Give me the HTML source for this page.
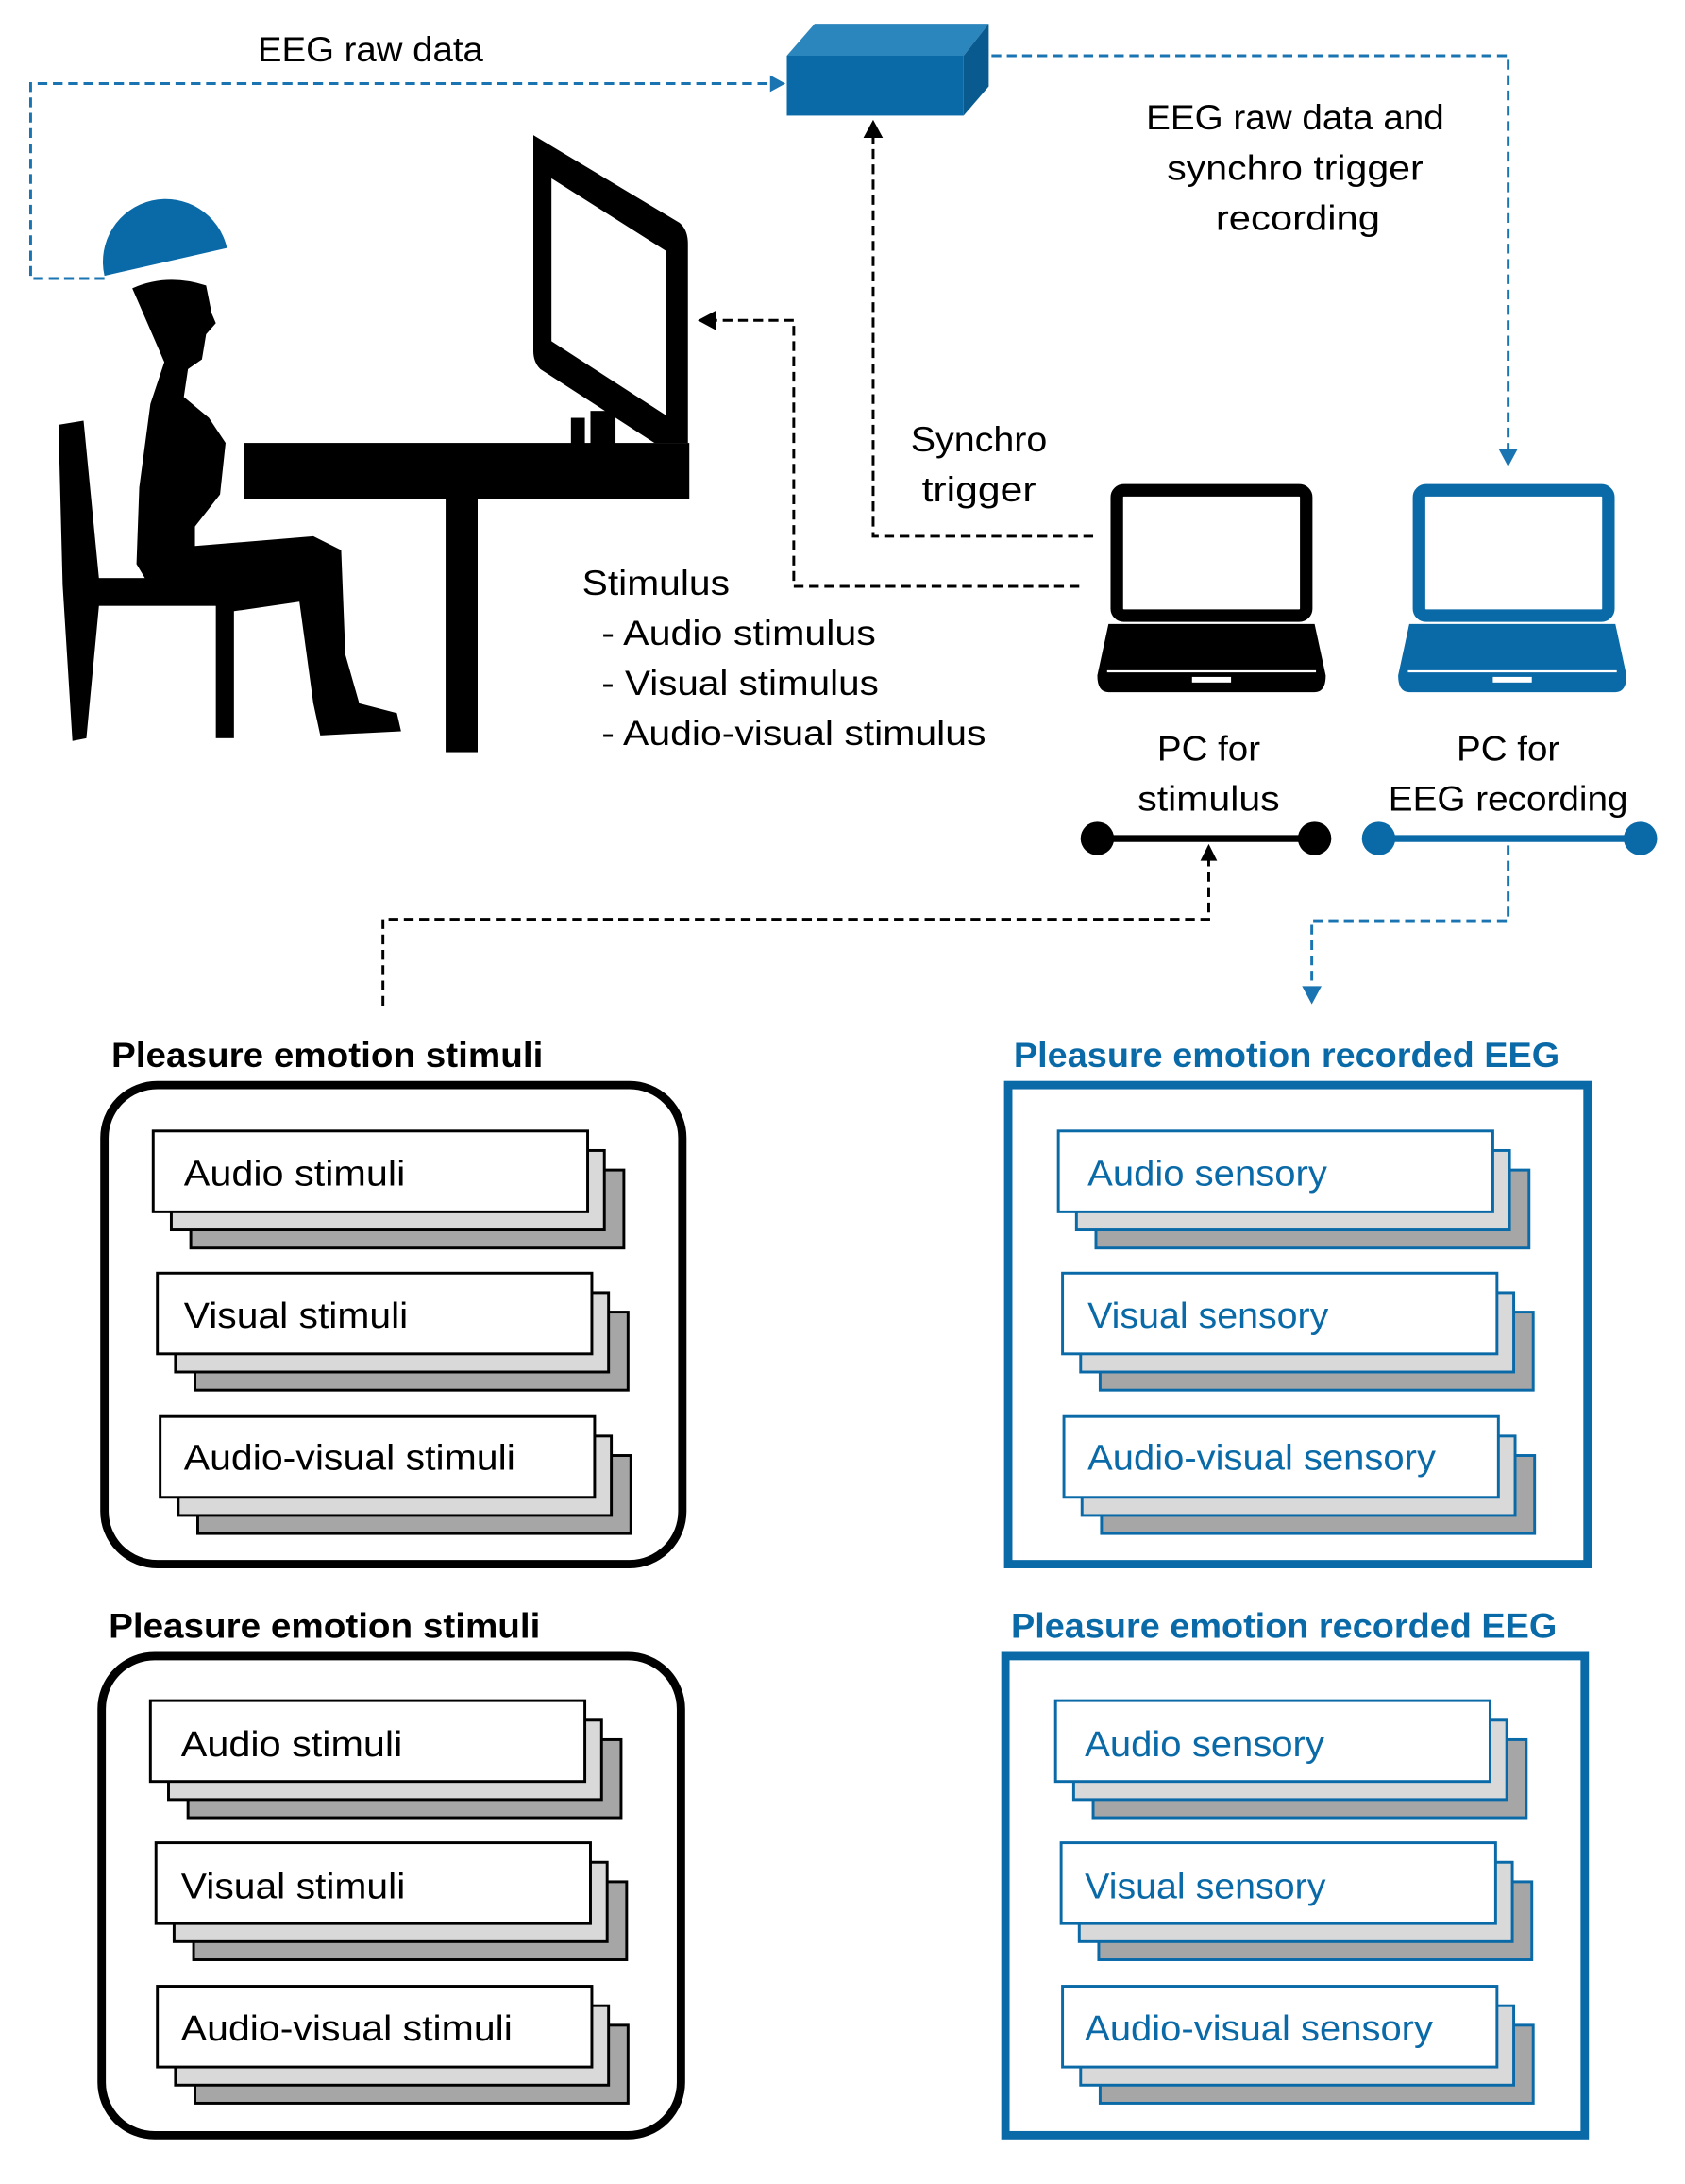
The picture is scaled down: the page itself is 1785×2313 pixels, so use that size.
<!DOCTYPE html>
<html><head><meta charset="utf-8"><style>
html,body{margin:0;padding:0;background:#fff}
svg{display:block}
text{font-family:"Liberation Sans",sans-serif}
</style></head><body>
<svg width="1785" height="2313" viewBox="0 0 1210 1568" preserveAspectRatio="none" xmlns="http://www.w3.org/2000/svg">
<!-- Blue cuboid -->
<polygon points="565,40 585,17 710,17 692,40" fill="#2b86bd"/>
<polygon points="692,40 710,17 710,62 692,83" fill="#085a8f"/>
<rect x="565" y="40" width="127" height="43" fill="#0a6aa8"/>
<g stroke="#1a74b2" stroke-width="2" stroke-dasharray="7,4" fill="none">
<path d="M75,200 H22 V60 H553"/>
<path d="M712,40 H1083 V322"/>
<path d="M1083,607 V661 H942 V708"/>
</g>
<polygon points="553,54 564,60 553,66" fill="#1a74b2"/>
<polygon points="1076,322 1083,335 1090,322" fill="#1a74b2"/>
<polygon points="935,708 942,721 949,708" fill="#1a74b2"/>
<text x="266" y="44" font-size="25" text-anchor="middle" textLength="162" lengthAdjust="spacingAndGlyphs">EEG raw data</text>
<text x="930" y="93" font-size="25" text-anchor="middle" textLength="214" lengthAdjust="spacingAndGlyphs">EEG raw data and</text>
<text x="930" y="129" font-size="25" text-anchor="middle" textLength="184" lengthAdjust="spacingAndGlyphs">synchro trigger</text>
<text x="932" y="165" font-size="25" text-anchor="middle" textLength="118" lengthAdjust="spacingAndGlyphs">recording</text>
<g stroke="#000" stroke-width="2" stroke-dasharray="7,4" fill="none">
<path d="M785,385 H627 V98"/>
<path d="M775,421 H570 V230 H514"/>
<path d="M275,722 V660 H868 V617"/>
</g>
<polygon points="620,99 627,86 634,99" fill="#000"/>
<polygon points="514,223 501,230 514,237" fill="#000"/>
<polygon points="862,618 868,606 874,618" fill="#000"/>
<text x="703" y="324" font-size="25" text-anchor="middle" textLength="98" lengthAdjust="spacingAndGlyphs">Synchro</text>
<text x="703" y="360" font-size="25" text-anchor="middle" textLength="82" lengthAdjust="spacingAndGlyphs">trigger</text>
<text x="418" y="427" font-size="25" textLength="106" lengthAdjust="spacingAndGlyphs">Stimulus</text>
<text x="432" y="463" font-size="25" textLength="197" lengthAdjust="spacingAndGlyphs">- Audio stimulus</text>
<text x="432" y="499" font-size="25" textLength="199" lengthAdjust="spacingAndGlyphs">- Visual stimulus</text>
<text x="432" y="535" font-size="25" textLength="276" lengthAdjust="spacingAndGlyphs">- Audio-visual stimulus</text>
<path d="M75,198 A44,44 0 0 1 163,178 Z" fill="#0a6aa8"/>
<g fill="#000">
<path d="M42,305 L60,302 L72,425 L62,530 L52,532 L45,420 Z"/>
<rect x="55" y="415" width="118" height="20"/>
<rect x="155" y="420" width="13" height="110"/>
<path d="M95,207 Q120,196 148,205 L152,225 L155,232 L148,240 L145,258 L135,265 L132,285 L150,300 L162,318 L158,355 L140,378 L140,392 L225,385 L245,395 L248,470 L258,505 L285,512 L288,525 L230,528 L225,505 L215,432 L160,440 L150,425 L110,425 L98,405 L100,350 L108,290 L118,260 L105,230 Z"/>
<rect x="175" y="318" width="320" height="40"/>
<rect x="320" y="355" width="23" height="185"/>
<path d="M383,97 L488,160 Q494,165 494,175 L494,318 L478,318 L478,180 L396,128 L396,245 L478,298 L478,318 L470,318 L388,265 Q383,260 383,252 Z"/>
<rect x="410" y="300" width="10" height="20"/>
<rect x="424" y="295" width="18" height="25"/>
</g>
<g>
<rect x="802" y="352" width="136" height="90" rx="5" fill="none" stroke="#000" stroke-width="9"/>
<path d="M796,448 H944 L952,485 Q952,497 944,497 H796 Q788,497 788,485 Z" fill="#000"/>
<line x1="795" y1="482" x2="945" y2="482" stroke="#fff" stroke-width="1.5"/>
<rect x="856" y="486" width="28" height="4" fill="#fff"/>
<rect x="1019" y="352" width="136" height="90" rx="5" fill="none" stroke="#0a6aa8" stroke-width="9"/>
<path d="M1012,448 H1160 L1168,485 Q1168,497 1160,497 H1012 Q1004,497 1004,485 Z" fill="#0a6aa8"/>
<line x1="1011" y1="482" x2="1161" y2="482" stroke="#fff" stroke-width="1.5"/>
<rect x="1072" y="486" width="28" height="4" fill="#fff"/>
</g>
<text x="868" y="546" font-size="25" text-anchor="middle" textLength="74" lengthAdjust="spacingAndGlyphs">PC for</text>
<text x="868" y="582" font-size="25" text-anchor="middle" textLength="102" lengthAdjust="spacingAndGlyphs">stimulus</text>
<text x="1083" y="546" font-size="25" text-anchor="middle" textLength="74" lengthAdjust="spacingAndGlyphs">PC for</text>
<text x="1083" y="582" font-size="25" text-anchor="middle" textLength="172" lengthAdjust="spacingAndGlyphs">EEG recording</text>
<line x1="788" y1="602" x2="944" y2="602" stroke="#000" stroke-width="5"/>
<circle cx="788" cy="602" r="12" fill="#000"/><circle cx="944" cy="602" r="12" fill="#000"/>
<line x1="990" y1="602" x2="1178" y2="602" stroke="#0a6aa8" stroke-width="5"/>
<circle cx="990" cy="602" r="12" fill="#0a6aa8"/><circle cx="1178" cy="602" r="12" fill="#0a6aa8"/>

<g font-size="25" font-weight="bold">
<text x="80" y="766" textLength="310" lengthAdjust="spacingAndGlyphs">Pleasure emotion stimuli</text>
<text x="728" y="766" fill="#0a6aa8" textLength="392" lengthAdjust="spacingAndGlyphs">Pleasure emotion recorded EEG</text>
<text x="78" y="1176" textLength="310" lengthAdjust="spacingAndGlyphs">Pleasure emotion stimuli</text>
<text x="726" y="1176" fill="#0a6aa8" textLength="392" lengthAdjust="spacingAndGlyphs">Pleasure emotion recorded EEG</text>
</g>
<rect x="75" y="779" width="415" height="344" rx="38" fill="none" stroke="#000" stroke-width="6"/>
<rect x="73" y="1189" width="416" height="344" rx="38" fill="none" stroke="#000" stroke-width="6"/>
<rect x="724" y="779" width="416" height="344" fill="none" stroke="#0a6aa8" stroke-width="6"/>
<rect x="722" y="1189" width="416" height="344" fill="none" stroke="#0a6aa8" stroke-width="6"/>

<g stroke-width="2">
<g stroke="#000">
<rect x="137" y="840" width="311" height="56" fill="#a6a6a6"/><rect x="123" y="826" width="311" height="57" fill="#d9d9d9"/><rect x="110" y="812" width="312" height="58" fill="#fff"/>
<rect x="140" y="942" width="311" height="56" fill="#a6a6a6"/><rect x="126" y="928" width="311" height="57" fill="#d9d9d9"/><rect x="113" y="914" width="312" height="58" fill="#fff"/>
<rect x="142" y="1045" width="311" height="56" fill="#a6a6a6"/><rect x="128" y="1031" width="311" height="57" fill="#d9d9d9"/><rect x="115" y="1017" width="312" height="58" fill="#fff"/>
<rect x="135" y="1249" width="311" height="56" fill="#a6a6a6"/><rect x="121" y="1235" width="311" height="57" fill="#d9d9d9"/><rect x="108" y="1221" width="312" height="58" fill="#fff"/>
<rect x="139" y="1351" width="311" height="56" fill="#a6a6a6"/><rect x="125" y="1337" width="311" height="57" fill="#d9d9d9"/><rect x="112" y="1323" width="312" height="58" fill="#fff"/>
<rect x="140" y="1454" width="311" height="56" fill="#a6a6a6"/><rect x="126" y="1440" width="311" height="57" fill="#d9d9d9"/><rect x="113" y="1426" width="312" height="58" fill="#fff"/>
</g>
<g stroke="#0a6aa8">
<rect x="787" y="840" width="311" height="56" fill="#a6a6a6"/><rect x="773" y="826" width="311" height="57" fill="#d9d9d9"/><rect x="760" y="812" width="312" height="58" fill="#fff"/>
<rect x="790" y="942" width="311" height="56" fill="#a6a6a6"/><rect x="776" y="928" width="311" height="57" fill="#d9d9d9"/><rect x="763" y="914" width="312" height="58" fill="#fff"/>
<rect x="791" y="1045" width="311" height="56" fill="#a6a6a6"/><rect x="777" y="1031" width="311" height="57" fill="#d9d9d9"/><rect x="764" y="1017" width="312" height="58" fill="#fff"/>
<rect x="785" y="1249" width="311" height="56" fill="#a6a6a6"/><rect x="771" y="1235" width="311" height="57" fill="#d9d9d9"/><rect x="758" y="1221" width="312" height="58" fill="#fff"/>
<rect x="789" y="1351" width="311" height="56" fill="#a6a6a6"/><rect x="775" y="1337" width="311" height="57" fill="#d9d9d9"/><rect x="762" y="1323" width="312" height="58" fill="#fff"/>
<rect x="790" y="1454" width="311" height="56" fill="#a6a6a6"/><rect x="776" y="1440" width="311" height="57" fill="#d9d9d9"/><rect x="763" y="1426" width="312" height="58" fill="#fff"/>
</g>
</g>
<g font-size="26">
<text x="132" y="851" textLength="159" lengthAdjust="spacingAndGlyphs">Audio stimuli</text>
<text x="132" y="953" textLength="161" lengthAdjust="spacingAndGlyphs">Visual stimuli</text>
<text x="132" y="1055" textLength="238" lengthAdjust="spacingAndGlyphs">Audio-visual stimuli</text>
<text x="130" y="1261" textLength="159" lengthAdjust="spacingAndGlyphs">Audio stimuli</text>
<text x="130" y="1363" textLength="161" lengthAdjust="spacingAndGlyphs">Visual stimuli</text>
<text x="130" y="1465" textLength="238" lengthAdjust="spacingAndGlyphs">Audio-visual stimuli</text>
<g fill="#0a6aa8">
<text x="781" y="851" textLength="172" lengthAdjust="spacingAndGlyphs">Audio sensory</text>
<text x="781" y="953" textLength="173" lengthAdjust="spacingAndGlyphs">Visual sensory</text>
<text x="781" y="1055" textLength="250" lengthAdjust="spacingAndGlyphs">Audio-visual sensory</text>
<text x="779" y="1261" textLength="172" lengthAdjust="spacingAndGlyphs">Audio sensory</text>
<text x="779" y="1363" textLength="173" lengthAdjust="spacingAndGlyphs">Visual sensory</text>
<text x="779" y="1465" textLength="250" lengthAdjust="spacingAndGlyphs">Audio-visual sensory</text>
</g>
</g>
</svg>
</body></html>
